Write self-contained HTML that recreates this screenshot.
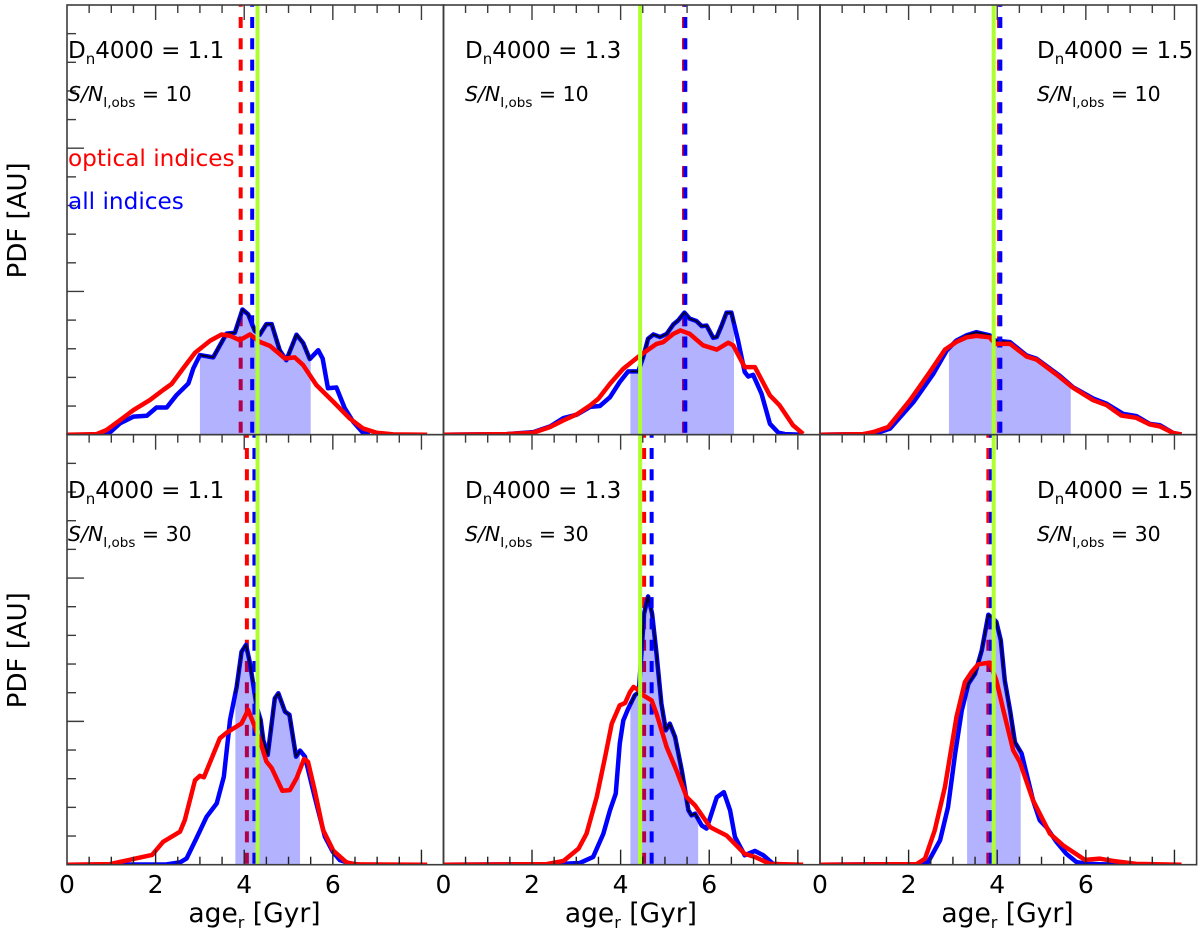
<!DOCTYPE html>
<html lang="en">
<head>
<meta charset="utf-8">
<title>Age PDF panels</title>
<style>
html,body{margin:0;padding:0;background:#fff;}
svg{display:block;font-family:"DejaVu Sans","Liberation Sans",sans-serif;}
</style>
</head>
<body>
<svg id="chart" width="1200" height="935" viewBox="0 0 1200 935" xmlns="http://www.w3.org/2000/svg">
<defs id="defs"></defs>
</svg>
<script>
// Series values: ages in Gyr, PDF in arbitrary units
const ageBlueA = [0.74,0.97,1.20,1.50,1.80,2.02,2.25,2.47,2.74,2.85,3.00,3.30,3.60,3.79,3.96,4.09,4.24,4.35,4.50,4.62,4.80,4.95,5.18,5.33,5.48,5.67,5.77,5.89,6.08,6.27,6.46,6.68,6.83];
const pdfBlueA = [0,0.08,0.40,0.63,0.66,0.95,0.95,1.38,1.79,2.31,2.78,2.70,3.53,3.56,4.37,4.20,3.62,3.49,3.86,3.86,2.95,2.60,3.49,3.20,2.64,2.95,2.66,1.62,1.65,0.92,0.45,0.07,0];
const ageRedA = [0,0.67,0.89,1.20,1.50,1.87,2.17,2.36,2.62,2.89,3.23,3.49,3.68,3.90,4.13,4.35,4.58,4.92,5.14,5.33,5.63,6.01,6.38,6.68,6.98,7.36,8.13];
const pdfRedA = [0,0.02,0.16,0.51,0.86,1.21,1.56,1.77,2.31,2.86,3.28,3.50,3.45,3.30,3.50,3.24,3.10,2.66,2.70,2.43,1.73,1.15,0.57,0.22,0.07,0.01,0];

const ageBlueB = [0,1.43,2.03,2.41,2.71,3.01,3.31,3.53,3.76,3.98,4.17,4.40,4.51,4.62,4.74,4.89,5.04,5.19,5.30,5.44,5.56,5.71,5.83,5.94,6.09,6.17,6.28,6.39,6.50,6.65,6.80,6.88,6.99,7.18,7.37,7.56,7.71,8.12];
const pdfBlueB = [0,0.02,0.09,0.29,0.58,0.70,0.97,1.00,1.31,1.84,2.21,2.21,2.71,3.35,3.50,3.41,3.52,3.85,3.99,4.26,4.05,3.97,3.79,3.81,3.38,3.41,3.81,4.26,4.26,3.29,2.19,2.03,2.09,1.43,0.38,0.07,0.02,0];
const ageRedB = [0,1.43,2.03,2.41,2.71,3.01,3.31,3.50,3.76,4.06,4.44,4.81,4.96,5.19,5.35,5.56,5.86,6.17,6.43,6.54,6.80,7.03,7.37,7.59,7.89,8.12];
const pdfRedB = [0,0.02,0.07,0.27,0.50,0.71,1.02,1.26,1.78,2.30,2.77,3.17,3.23,3.52,3.64,3.52,3.12,2.97,3.21,3.12,2.36,2.36,1.37,1.02,0.33,0.03];

const ageBlueC = [0,0.98,1.35,1.58,2.11,2.56,2.86,3.08,3.31,3.53,3.83,3.95,4.29,4.66,4.89,5.41,5.71,6.17,6.47,6.84,7.14,7.44,7.67,7.97,8.16];
const pdfBlueC = [0,0.02,0.09,0.21,1.14,2.13,2.94,3.29,3.47,3.58,3.47,3.29,3.23,2.77,2.65,2.06,1.66,1.26,1.08,0.73,0.65,0.38,0.33,0.06,0];
const ageRedC = [0,0.98,1.20,1.54,2.03,2.48,2.82,3.08,3.31,3.53,3.83,3.95,4.29,4.66,4.89,5.34,5.71,6.17,6.47,6.80,7.14,7.44,7.67,7.97,8.16];
const pdfRedC = [0,0.02,0.09,0.27,1.20,2.19,2.97,3.24,3.40,3.45,3.40,3.17,3.17,2.73,2.62,2.10,1.64,1.20,1.03,0.67,0.59,0.36,0.29,0.06,0.01];

const ageBlueD = [0,2.25,2.55,2.70,2.92,3.15,3.38,3.54,3.68,3.83,3.94,4.04,4.13,4.28,4.37,4.43,4.53,4.62,4.69,4.77,4.92,5.02,5.17,5.26,5.37,5.59,5.82,6.00,6.16,6.38,6.61];
const pdfBlueD = [0,0.01,0.08,0.22,0.92,1.67,2.14,3.07,5.05,6.21,7.43,7.67,7.03,5.51,5.05,4.35,3.83,4.93,5.80,5.98,5.34,5.23,3.77,3.98,3.77,2.37,0.98,0.45,0.16,0.05,0];
const ageRedD = [0,0.97,1.50,1.92,2.17,2.55,2.66,2.89,3.00,3.09,3.45,3.60,3.94,4.09,4.24,4.35,4.50,4.62,4.86,5.03,5.18,5.35,5.44,5.59,5.78,6.01,6.31,6.53,8.13];
const pdfRedD = [0,0.02,0.20,0.34,0.80,1.15,1.56,2.95,3.10,3.05,4.41,4.60,4.93,5.40,4.81,4.35,3.60,3.37,2.58,2.60,3.01,3.69,3.59,2.60,1.21,0.49,0.08,0.01,0];

const ageBlueE = [0,2.56,3.08,3.38,3.61,3.76,3.89,3.98,4.06,4.17,4.32,4.41,4.53,4.62,4.71,4.81,4.92,5.02,5.11,5.23,5.38,5.53,5.60,5.68,5.83,5.94,6.05,6.17,6.33,6.47,6.58,6.80,7.03,7.22,7.44,7.74];
const pdfBlueE = [0,0.02,0.06,0.27,1.08,1.90,2.48,4.22,5.03,5.44,5.91,6.02,8.76,9.36,8.76,7.36,5.62,4.69,4.92,4.45,3.29,1.90,1.72,1.78,1.37,1.26,1.78,2.35,2.53,1.90,0.97,0.33,0.48,0.33,0.03,0];
const ageRedE = [0,2.33,2.71,3.05,3.23,3.46,3.65,3.80,3.98,4.10,4.21,4.29,4.40,4.51,4.70,4.81,5.04,5.26,5.49,5.68,6.02,6.39,6.80,7.03,7.37,8.12];
const pdfRedE = [0,0.02,0.13,0.56,1.08,2.36,3.76,4.92,5.56,5.64,6.02,6.20,6.10,5.91,5.73,5.27,4.10,3.29,2.36,2.07,1.31,1.02,0.38,0.27,0.03,0];

const ageBlueF = [0,2.26,2.44,2.71,2.89,3.05,3.20,3.35,3.50,3.65,3.80,3.91,3.98,4.08,4.17,4.29,4.40,4.55,4.81,4.96,5.11,5.34,5.56,5.79,6.02,6.77,7.52];
const pdfBlueF = [0,0.02,0.09,0.85,2.01,3.87,5.38,6.31,6.66,7.47,8.72,8.58,8.47,7.83,6.43,5.38,4.27,3.88,2.24,1.55,1.31,0.79,0.38,0.09,0.03,0,0];
const ageRedF = [0,2.18,2.37,2.59,2.82,3.08,3.27,3.42,3.57,3.83,3.98,4.14,4.36,4.51,4.81,5.19,5.49,5.98,6.32,6.62,7.14,8.16];
const pdfRedF = [0,0.02,0.21,1.20,2.71,5.15,6.37,6.72,6.99,7.05,6.43,5.38,3.99,3.58,2.24,1.08,0.67,0.17,0.21,0.13,0.03,0];

// Per-panel statistics (Gyr): left to right, top row then bottom row
const shadeLow  = [3.00,4.22,2.91,3.80,4.22,3.32];
const shadeHigh = [5.50,6.56,5.66,5.26,5.75,4.53];
const medianRed  = [3.92,5.43,4.04,4.06,4.53,3.80];
const medianBlue = [4.18,5.46,4.07,4.23,4.70,3.86];
const trueAge    = [4.30,4.44,3.92,4.30,4.44,3.92];

// Labels
const dnValues = ['1.1','1.3','1.5','1.1','1.3','1.5'];
const snValues = ['10','10','10','30','30','30'];
const xTickLabels = [0,2,4,6];
const yMax = 15;
const xMax = 8.5;

const blueAges = [ageBlueA,ageBlueB,ageBlueC,ageBlueD,ageBlueE,ageBlueF];
const bluePdfs = [pdfBlueA,pdfBlueB,pdfBlueC,pdfBlueD,pdfBlueE,pdfBlueF];
const redAges = [ageRedA,ageRedB,ageRedC,ageRedD,ageRedE,ageRedF];
const redPdfs = [pdfRedA,pdfRedB,pdfRedC,pdfRedD,pdfRedE,pdfRedF];

const NS = 'http://www.w3.org/2000/svg';
const svg = document.getElementById('chart');
const defs = document.getElementById('defs');
const AXIS = '#3c3c3c';
const colLeft = [67, 443.4, 820];
const panelW = 376.6;
const rowTop = [5, 434.7];
const rowBottom = [434.7, 864.7];
const dashPhase = [9.3, 8];

function el(tag, attrs, parent) {
  const e = document.createElementNS(NS, tag);
  for (const k in attrs) e.setAttribute(k, attrs[k]);
  parent.appendChild(e);
  return e;
}
function interp(xs, ys, x) {
  for (let i = 1; i < xs.length; i++) {
    if (x <= xs[i]) {
      const t = (x - xs[i-1]) / (xs[i] - xs[i-1]);
      return ys[i-1] + t * (ys[i] - ys[i-1]);
    }
  }
  return 0;
}

for (let p = 0; p < 6; p++) {
  const col = p % 3, row = p < 3 ? 0 : 1;
  const left = colLeft[col], top = rowTop[row], bottom = rowBottom[row];
  const sx = v => left + v * panelW / xMax;
  const sy = v => bottom - v * (bottom - top) / yMax;
  const path = (xs, ys) => xs.map((x, i) => sx(x).toFixed(2) + ',' + sy(ys[i]).toFixed(2)).join(' ');

  const clip = el('clipPath', {id: 'clip' + p}, defs);
  el('rect', {x: left, y: top, width: panelW, height: bottom - top}, clip);

  const g = el('g', {'clip-path': 'url(#clip' + p + ')'}, svg);
  
  

  const redMed = el('line', {x1: sx(medianRed[p]), x2: sx(medianRed[p]), y1: top, y2: bottom, stroke: '#ff0000', 'stroke-width': 4, 'stroke-dasharray': '11 10.3', 'stroke-dashoffset': dashPhase[row]}, g);
  
  

  const blueLine = el('polyline', {points: path(blueAges[p], bluePdfs[p]), fill: 'none', stroke: '#0000ff', 'stroke-width': 4.5, 'stroke-linejoin': 'round'}, g);
  
  

  const bx = blueAges[p], by = bluePdfs[p], lo = shadeLow[p], hi = shadeHigh[p];
  const sxs = [lo], sys = [interp(bx, by, lo)];
  for (let i = 0; i < bx.length; i++) if (bx[i] > lo && bx[i] < hi) { sxs.push(bx[i]); sys.push(by[i]); }
  sxs.push(hi); sys.push(interp(bx, by, hi));
  const shade = el('polygon', {points: sx(lo) + ',' + sy(0) + ' ' + path(sxs, sys) + ' ' + sx(hi) + ',' + sy(0), fill: 'rgba(0,0,255,0.3)'}, g);
  
  

  const outline = el('polyline', {points: path(sxs, sys), fill: 'none', stroke: '#000022', 'stroke-width': 1.8, 'stroke-linejoin': 'round'}, g);
  
  

  const blueMed = el('line', {x1: sx(medianBlue[p]), x2: sx(medianBlue[p]), y1: top, y2: bottom, stroke: '#0000ff', 'stroke-width': 4, 'stroke-dasharray': '11 10.3', 'stroke-dashoffset': dashPhase[row]}, g);
  
  

  const redLine = el('polyline', {points: path(redAges[p], redPdfs[p]), fill: 'none', stroke: '#ff0000', 'stroke-width': 4.5, 'stroke-linejoin': 'round'}, g);
  
  

  const truth = el('line', {x1: sx(trueAge[p]), x2: sx(trueAge[p]), y1: bottom, y2: top, stroke: '#adff2f', 'stroke-width': 4}, g);
  
  

  // top ticks, plus bottom ticks on lower row
  for (let k = 1; k < 17; k++) {
    const v = k * 0.5, major = k % 4 === 0;
    const len = major ? 15 : 8;
    const t = el('line', {x1: sx(v), x2: sx(v), y1: top, y2: top + len, stroke: AXIS, 'stroke-width': 1.4}, svg);
    
    
    if (row === 1) {
      const b = el('line', {x1: sx(v), x2: sx(v), y1: bottom, y2: bottom - len, stroke: '#222', 'stroke-width': 1.4}, svg);
      
      
    }
  }
  // y ticks on first column
  if (col === 0) {
    for (let k = 1; k < yMax; k++) {
      const t = el('line', {x1: left, x2: left + (k % 5 === 0 ? 17 : 9), y1: sy(k), y2: sy(k), stroke: AXIS, 'stroke-width': 1.4}, svg);
      
      
    }
    const yTitle = el('text', {transform: 'translate(26,' + ((top + bottom) / 2 + 0.5) + ') rotate(-90)', 'text-anchor': 'middle', 'font-size': 26, fill: '#000'}, svg);
    yTitle.textContent = 'PDF [AU]';
    
    
  }
  // frame
  const frame = el('rect', {x: left, y: top, width: panelW, height: bottom - top, fill: 'none', stroke: AXIS, 'stroke-width': 1.6}, svg);
  
  

  // annotation text
  const textX = [68, 465, 1037][col];
  const offY = row === 0 ? 0 : 440;
  const dn = el('text', {x: textX, y: 58 + offY, 'font-size': 23, fill: '#000'}, svg);
  
  
  el('tspan', {}, dn).textContent = 'D';
  el('tspan', {'font-size': 15, dy: 6}, dn).textContent = 'n';
  el('tspan', {dy: -6}, dn).textContent = '4000 = ' + dnValues[p];

  const sn = el('text', {x: textX, y: 101 + offY, 'font-size': 20.5, fill: '#000'}, svg);
  
  
  el('tspan', {'font-style': 'italic'}, sn).textContent = 'S/N';
  el('tspan', {'font-size': 13.5, dy: 6}, sn).textContent = 'I,obs';
  el('tspan', {dy: -6}, sn).textContent = ' = ' + snValues[p];

  // x labels on lower row
  if (row === 1) {
    xTickLabels.forEach(v => {
      const t = el('text', {x: sx(v), y: 893, 'text-anchor': 'middle', 'font-size': 25, fill: '#000'}, svg);
      t.textContent = v;
      
      
    });
    const title = el('text', {x: left + 187.5, y: 922, 'text-anchor': 'middle', 'font-size': 26.5, fill: '#000'}, svg);
    
    
    el('tspan', {}, title).textContent = 'age';
    el('tspan', {'font-size': 16, dy: 6}, title).textContent = 'r';
    el('tspan', {dy: -6}, title).textContent = ' [Gyr]';
  }
}

const legendOptical = el('text', {x: 68, y: 166, 'font-size': 23.2, fill: '#ff0000'}, svg);
legendOptical.textContent = 'optical indices';



const legendAll = el('text', {x: 68, y: 209, 'font-size': 23.2, fill: '#0000ff'}, svg);
legendAll.textContent = 'all indices';


</script>
</body>
</html>
